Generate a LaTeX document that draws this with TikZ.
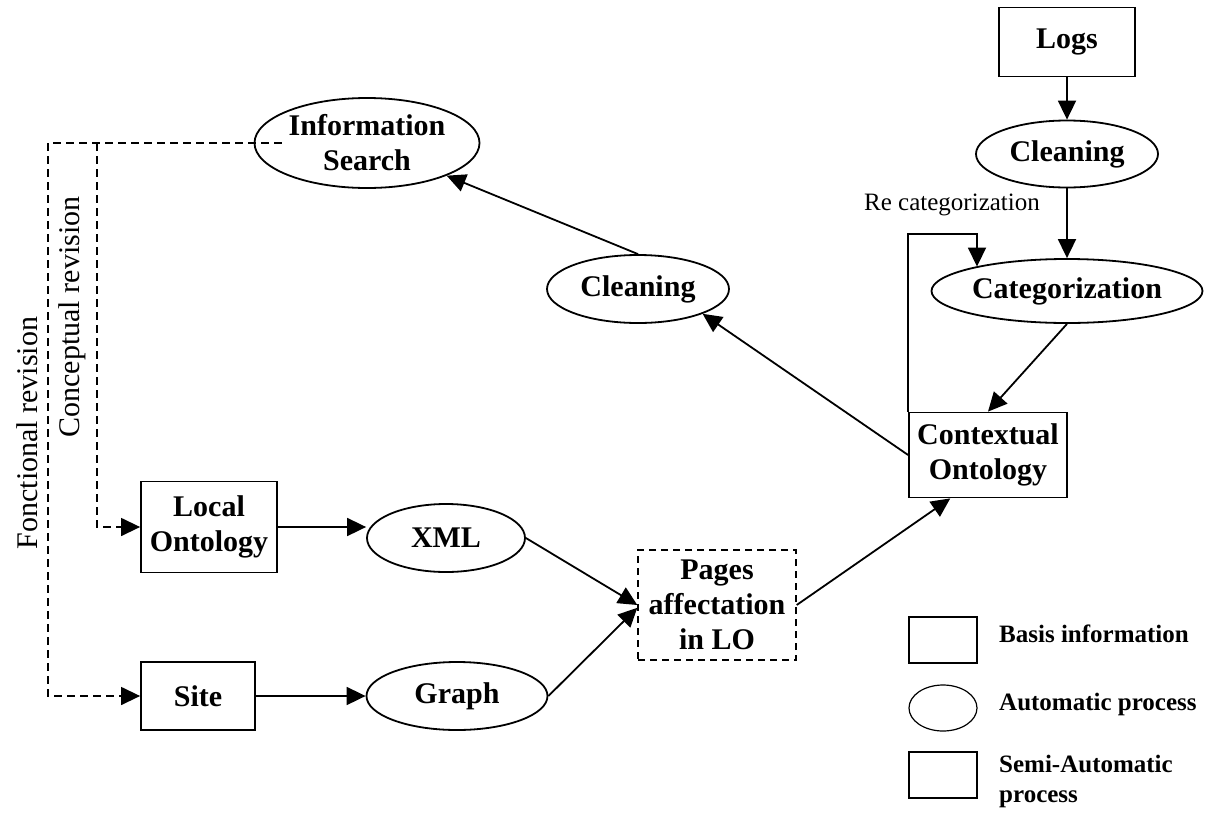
\documentclass[tikz,border=0pt]{standalone}
\usepackage{fontspec}
\setmainfont{Liberation Serif}
\usetikzlibrary{shapes.geometric,arrows.meta}

\tikzset{
  boite/.style={draw,line width=1.8pt,inner sep=0pt,align=center,
    font=\fontsize{30}{35}\selectfont\bfseries},
  basis/.style={boite,rectangle},
  autom/.style={boite,ellipse},
  semiauto/.style={boite,rectangle,line width=1.4pt,dash pattern=on 7pt off 5pt},
  fleche/.style={line width=1.8pt,-{Triangle[length=19pt,width=18pt]}},
  revision/.style={line width=1.4pt,dash pattern=on 8pt off 5pt},
  legende/.style={anchor=west,inner sep=0pt,align=left,
    font=\fontsize{25}{30}\selectfont\bfseries},
  note/.style={inner sep=0pt,font=\fontsize{30}{35}\selectfont}
}

\begin{document}
\begin{tikzpicture}[x=1pt,y=-1pt]
\useasboundingbox (0,0) rectangle (1210,814);

% logs side
\node[basis,minimum width=136pt,minimum height=69pt] (logs) at (1067,42) {Logs};
\node[autom,minimum width=182pt,minimum height=67pt] (clean1) at (1067,154) {Cleaning};
\node[autom,minimum width=271pt,minimum height=64pt] (cat) at (1067,291) {Categorization};
\node[basis,minimum width=158pt,minimum height=85pt] (ctx) at (988,455) {Contextual\\Ontology};
\node[autom,minimum width=182pt,minimum height=68pt] (clean2) at (638,289) {Cleaning};
\node[autom,minimum width=225pt,minimum height=90pt] (info) at (367,143) {Information\\Search};

% site side
\node[basis,minimum width=136pt,minimum height=91pt] (local) at (209,527) {Local\\Ontology};
\node[autom,minimum width=158pt,minimum height=68pt] (xml) at (446,538) {XML};
\node[basis,minimum width=114pt,minimum height=68pt] (site) at (198,696) {Site};
\node[autom,minimum width=181pt,minimum height=68pt] (graph) at (457,696) {Graph};
\node[semiauto,minimum width=158pt,minimum height=110pt] (pages) at (717,605) {Pages\\affectation\\in LO};

\draw[fleche] (logs) -- (clean1);
\draw[fleche] (clean1) -- (cat);
\draw[fleche] (cat.south) -- (ctx.north);
\draw[fleche] (ctx.west) -- (clean2.-21);
\draw[fleche] (clean2.north) -- (info);
\draw[fleche] (local.east) -- (local.east -| xml.west);
\draw[fleche] (site) -- (graph);
\draw[fleche] (xml.east) -- (pages.180);
\draw[fleche] (graph.east) -- (pages.-178);
\draw[fleche] (pages.east) -- (ctx.-131);

% re categorization loop
\coordinate (recat) at (977,234);
\draw[fleche] (ctx.north west) |- (recat) -- (recat |- cat.165);
\node[note,font=\fontsize{25}{30}\selectfont] (recatlbl) at (952,205) {Re categorization};

% revisions
\coordinate (fr) at (48,143);
\coordinate (cr) at (97,143);
\draw[revision] ([xshift=28pt]info.west) -- (fr);
\draw[revision,-{Triangle[length=19pt,width=18pt]}] (fr) |- (site.west);
\draw[revision,-{Triangle[length=19pt,width=18pt]}] (cr) |- (local.west);
\node[note,rotate=90] (concept) at (72,317) {Conceptual revision};
\node[note,rotate=90] (fonct) at (27,433) {Fonctional revision};

% legend
\node[basis,line width=1.2pt,minimum width=68pt,minimum height=46pt] (legbasis) at (943,640) {};
\node[autom,line width=1.2pt,minimum width=68pt,minimum height=46pt] (legauto) at (943,708) {};
\node[basis,line width=1.2pt,minimum width=68pt,minimum height=46pt] (legsemi) at (943,775) {};
\node[legende] (txtbasis) at (999,634) {Basis information};
\node[legende] (txtauto) at (999,704) {Automatic process};
\node[legende] (txtsemi) at (999,781) {Semi-Automatic\\process};
\end{tikzpicture}
\end{document}
